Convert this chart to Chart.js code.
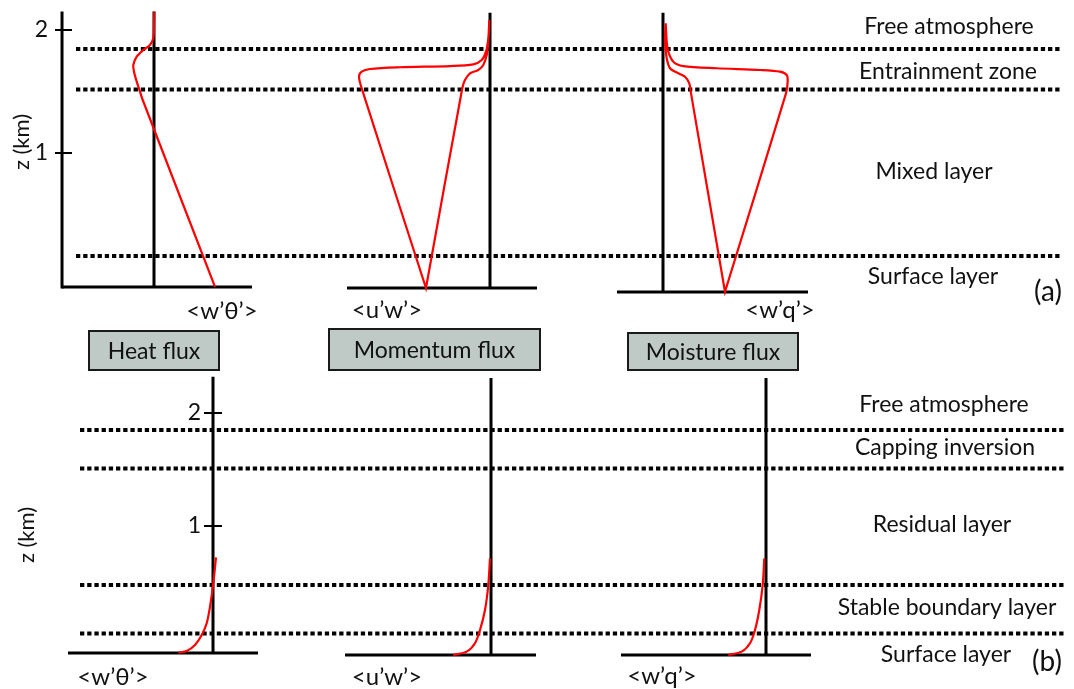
<!DOCTYPE html>
<html lang="en">
<head>
<meta charset="UTF-8" />
<title>Turbulent fluxes in the boundary layer</title>
<style>
  html, body { margin: 0; padding: 0; background: #fff; }
  #wrap { position: relative; width: 1074px; height: 689px; }
  canvas { display: block; }
</style>
</head>
<body>
<div id="wrap"><canvas id="fluxChart" width="1074" height="689"></canvas></div>

<script src="https://cdn.jsdelivr.net/npm/chart.js"></script>
<script>
  // ---------- data ----------
  const fluxTitles = ['Heat flux', 'Momentum flux', 'Moisture flux'];
  const fluxSymbols = ['<w’θ’>', '<u’w’>', '<w’q’>'];
  const zTicks = [1, 2];

  // (a) daytime: z in km, flux in relative units
  const heatDayZ = [2.149, 2.041, 1.933, 1.878, 1.837, 1.783, 1.715, 1.661, 1.580, 1.498, 1.431, -0.089];
  const heatDayF = [0.005, 0, -0.012, -0.067, -0.178, -0.288, -0.345, -0.333, -0.288, -0.233, -0.188, 1.017];

  const momentumDayZ = [2.081, 1.933, 1.824, 1.756, 1.721, 1.707, 1.697, 1.683, 1.661, 1.620, 1.526, -0.098,
                        -0.098, 1.526, 1.593, 1.648, 1.675, 1.715, 1.797, 1.905, 2.041];
  const momentumDayF = [-0.012, -0.028, -0.067, -0.138, -0.278, -0.667, -1.5, -2.0, -2.138, -2.183, -2.138, -1.067,
                        -1.067, -0.462, -0.417, -0.333, -0.195, -0.112, -0.055, -0.028, -0.012];

  const moistureDayZ = [2.054, 1.905, 1.824, 1.742, 1.707, 1.689, 1.675, 1.661, 1.634, 1.580, 1.485, -0.128,
                        -0.128, 1.485, 1.567, 1.620, 1.648, 1.689, 1.770, 1.905, 2.054];
  const moistureDayF = [0.045, 0.062, 0.088, 0.172, 0.338, 0.895, 1.617, 1.95, 2.062, 2.078, 2.05, 1.033,
                        1.033, 0.467, 0.438, 0.367, 0.255, 0.117, 0.062, 0.033, 0.045];

  // (b) night-time
  const heatNightZ = [0.723, 0.493, 0.286, 0.139, 0.035, -0.053, -0.106, -0.121];
  const heatNightF = [0.05, 0.005, -0.05, -0.105, -0.188, -0.3, -0.438, -0.578];
  const momentumNightZ = [0.714, 0.478, 0.257, 0.080, -0.038, -0.112, -0.142];
  const momentumNightF = [-0.017, -0.045, -0.1, -0.183, -0.267, -0.405, -0.628];
  const moistureNightZ = [0.714, 0.478, 0.257, 0.080, -0.038, -0.112, -0.142];
  const moistureNightF = [-0.028, -0.055, -0.112, -0.183, -0.267, -0.405, -0.628];

  // layer boundaries (km) and layer names
  const dayLayerTops = [1.846, 1.516, 0.163];
  const dayLayers = ['Free atmosphere', 'Entrainment zone', 'Mixed layer', 'Surface layer'];
  const dayLayerLabelZ = [2.024, 1.659, 0.846, -0.008];
  const nightLayerTops = [1.850, 1.509, 0.478, 0.049];
  const nightLayers = ['Free atmosphere', 'Capping inversion', 'Residual layer', 'Stable boundary layer', 'Surface layer'];
  const nightLayerLabelZ = [2.071, 1.690, 1.009, 0.274, -0.142];

  // ---------- layout ----------
  const W = 1074, H = 689;
  const PX_PER_UNIT = 60;
  const rows = {
    A: { zeroPx: 276, pxPerKm: 123, panelZeroPx: [154, 490, 663] },
    B: { zeroPx: 639, pxPerKm: 113, panelZeroPx: [213, 491, 766] }
  };
  // frame of each small panel, in its own units (flux, km)
  const frames = {
    A: [
      { top: 2.15, bottom: -0.089, left: -1.533, right: 1.633 },
      { top: 2.14, bottom: -0.098, left: -2.383, right: 0.783 },
      { top: 2.14, bottom: -0.13, left: -0.767, right: 2.417 }
    ],
    B: [
      { top: 2.32, bottom: -0.124, left: -2.417, right: 0.75 },
      { top: 2.31, bottom: -0.142, left: -2.433, right: 0.75 },
      { top: 2.31, bottom: -0.142, left: -2.417, right: 0.75 }
    ]
  };
  const dottedSpan = { A: [76 / W, 1060 / W], B: [80 / W, 1066 / W] };
  const symbolPos = { A: [[222, 311], [387, 310], [780, 310]], B: [[113, 677], [387, 677], [662, 676]] };
  const layerLabelX = { A: [949, 948, 934, 933], B: [944, 945, 942, 947, 946] };
  const boxes = [[89, 331, 130, 39], [329, 329, 211, 41], [628, 333, 170, 37]];
  const FONT = 'Lato, "Open Sans", sans-serif';

  // ---------- scales ----------
  const scales = {
    page: { type: 'linear', axis: 'x', position: 'bottom', display: false, min: 0, max: 1 }
  };
  Object.entries(rows).forEach(([r, row]) => {
    scales['z' + r] = {
      type: 'linear', axis: 'y', position: 'left', display: false,
      min: (row.zeroPx - H) / row.pxPerKm, max: row.zeroPx / row.pxPerKm
    };
    row.panelZeroPx.forEach((p, i) => {
      scales['f' + r + i] = {
        type: 'linear', axis: 'x', position: 'bottom', display: false,
        min: -p / PX_PER_UNIT, max: (W - p) / PX_PER_UNIT
      };
    });
  });

  // ---------- datasets ----------
  const profiles = [
    ['A', 0, heatDayZ, heatDayF], ['A', 1, momentumDayZ, momentumDayF], ['A', 2, moistureDayZ, moistureDayF],
    ['B', 0, heatNightZ, heatNightF], ['B', 1, momentumNightZ, momentumNightF], ['B', 2, moistureNightZ, moistureNightF]
  ];
  const datasets = profiles.map(([r, i, z, f]) => ({
    data: z.map((zz, k) => ({ x: f[k], y: zz })),
    xAxisID: 'f' + r + i,
    yAxisID: 'z' + r,
    showLine: true,
    borderColor: '#ff0000',
    borderWidth: 2.2,
    pointRadius: 0,
    tension: 0.3,
    fill: false
  }));
  [['A', dayLayerTops], ['B', nightLayerTops]].forEach(([r, tops]) => {
    tops.forEach(z => {
      datasets.push({
        data: [{ x: dottedSpan[r][0], y: z }, { x: dottedSpan[r][1], y: z }],
        xAxisID: 'page',
        yAxisID: 'z' + r,
        showLine: true,
        borderColor: '#000',
        borderWidth: 4,
        borderDash: [4.3, 2.9],
        borderCapStyle: 'butt',
        pointRadius: 0,
        fill: false
      });
    });
  });

  // ---------- axes, labels and boxes ----------
  function line(ctx, x1, y1, x2, y2) {
    ctx.beginPath();
    ctx.moveTo(x1, y1);
    ctx.lineTo(x2, y2);
    ctx.stroke();
  }

  const figurePlugin = {
    id: 'figure',
    beforeDatasetsDraw(chart) {
      const ctx = chart.ctx;
      ctx.save();
      ctx.strokeStyle = '#000';
      ctx.lineWidth = 3;
      ctx.lineCap = 'butt';
      ctx.fillStyle = '#111';
      ctx.font = '23px ' + FONT;
      Object.keys(rows).forEach(r => {
        const zs = chart.scales['z' + r];
        frames[r].forEach((fr, i) => {
          const fs = chart.scales['f' + r + i];
          const x0 = fs.getPixelForValue(0);
          const yTop = zs.getPixelForValue(fr.top), yBot = zs.getPixelForValue(fr.bottom);
          line(ctx, x0, yTop, x0, yBot);
          line(ctx, fs.getPixelForValue(fr.left), yBot, fs.getPixelForValue(fr.right), yBot);
        });
        // height axis: separate on the left in (a), on the heat flux zero line in (b)
        const fs0 = chart.scales['f' + r + '0'];
        const fr0 = frames[r][0];
        const ax = r === 'A' ? fs0.getPixelForValue(fr0.left) : fs0.getPixelForValue(0);
        if (r === 'A') line(ctx, ax, zs.getPixelForValue(fr0.top), ax, zs.getPixelForValue(fr0.bottom) + 1.5);
        ctx.lineWidth = 2;
        ctx.textAlign = 'right';
        ctx.textBaseline = 'middle';
        zTicks.forEach(t => {
          const y = zs.getPixelForValue(t);
          if (r === 'A') line(ctx, ax - 7, y, ax + 10, y);
          else line(ctx, ax - 9, y, ax + 9, y);
          ctx.fillText(String(t), ax - (r === 'A' ? 14 : 12), y);
        });
        ctx.lineWidth = 3;
        ctx.save();
        const lx = r === 'A' ? 22 : 27;
        const ly = r === 'A' ? 142 : 535;
        ctx.translate(lx, ly);
        ctx.rotate(-Math.PI / 2);
        ctx.textAlign = 'center';
        ctx.font = '22px ' + FONT;
        ctx.fillText('z (km)', 0, 0);
        ctx.restore();
      });
      ctx.restore();
    },
    afterDraw(chart) {
      const ctx = chart.ctx;
      ctx.save();
      ctx.textAlign = 'center';
      ctx.textBaseline = 'middle';
      ctx.fillStyle = '#111';
      // flux symbols under each panel
      ctx.font = '24px ' + FONT;
      Object.keys(rows).forEach(r => {
        symbolPos[r].forEach((p, i) => ctx.fillText(fluxSymbols[i], p[0], p[1]));
      });
      // layer names
      ctx.font = '23px ' + FONT;
      [['A', dayLayers, dayLayerLabelZ], ['B', nightLayers, nightLayerLabelZ]].forEach(([r, names, zs]) => {
        names.forEach((n, i) => ctx.fillText(n, layerLabelX[r][i], chart.scales['z' + r].getPixelForValue(zs[i])));
      });
      // flux title boxes
      boxes.forEach((b, i) => {
        ctx.fillStyle = '#bfcac7';
        ctx.fillRect(b[0], b[1], b[2], b[3]);
        ctx.strokeStyle = '#1a1a1a';
        ctx.lineWidth = 2;
        ctx.strokeRect(b[0], b[1], b[2], b[3]);
        ctx.fillStyle = '#111';
        ctx.fillText(fluxTitles[i], b[0] + b[2] / 2, b[1] + b[3] / 2 + 1);
      });
      // panel letters
      ctx.font = '28px ' + FONT;
      ctx.fillText('(a)', 1048, 292);
      ctx.fillText('(b)', 1047, 662);
      ctx.restore();
    }
  };

  new Chart(document.getElementById('fluxChart'), {
    type: 'scatter',
    data: { datasets },
    options: {
      responsive: false,
      animation: false,
      events: [],
      layout: { padding: 0 },
      plugins: { legend: { display: false }, tooltip: { enabled: false } },
      scales
    },
    plugins: [figurePlugin]
  });
</script>
</body>
</html>
